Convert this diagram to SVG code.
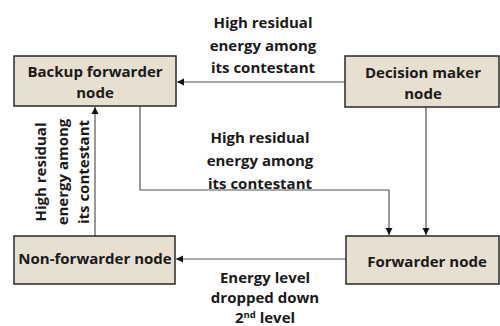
<svg xmlns="http://www.w3.org/2000/svg" width="500" height="326" viewBox="0 0 500 326">
<defs>
<marker id="ah" markerWidth="8" markerHeight="8" refX="7" refY="4" orient="auto" markerUnits="userSpaceOnUse">
<path d="M0,0.5 L7,4 L0,7.5 Z" fill="#111"/>
</marker>
<style>
.box{fill:#e7dfcf;stroke:#2a2a2a;stroke-width:1.5}
.t{font-family:"Open Sans","Noto Sans",sans-serif;font-weight:bold;font-size:15px;fill:#1a1a1a;text-anchor:middle}
.c{fill:none;stroke:#555;stroke-width:1.2;marker-end:url(#ah)}
</style>
</defs>
<rect width="500" height="326" fill="#fff"/>
<g id="connectors">
<path class="c" d="M345,82 H177"/>
<path class="c" d="M426,107 V235"/>
<path class="c" d="M140,106 V190 H389 V235"/>
<path class="c" d="M95,236 V107"/>
<path class="c" d="M346,259 H176"/>
</g>
<g id="backup">
<rect class="box" x="14" y="56" width="162" height="50"/>
<text class="t" x="95" y="77">Backup forwarder</text>
<text class="t" x="95" y="98">node</text>
</g>
<g id="decision">
<rect class="box" x="345" y="56" width="154" height="51"/>
<text class="t" x="423" y="78">Decision maker</text>
<text class="t" x="423" y="99">node</text>
</g>
<g id="nonforwarder">
<rect class="box" x="14" y="236" width="161" height="48"/>
<text class="t" x="95" y="264">Non-forwarder node</text>
</g>
<g id="forwarder">
<rect class="box" x="346" y="236" width="153" height="48"/>
<text class="t" x="427" y="267">Forwarder node</text>
</g>
<g id="labels">
<text class="t" x="263" y="28">High residual</text>
<text class="t" x="263" y="50.5">energy among</text>
<text class="t" x="263" y="73">its contestant</text>
<text class="t" x="260" y="143">High residual</text>
<text class="t" x="260" y="166">energy among</text>
<text class="t" x="260" y="189">its contestant</text>
<text class="t" x="265" y="283">Energy level</text>
<text class="t" x="265" y="303">dropped down</text>
<text class="t" x="265" y="322.5">2<tspan font-size="9.5" dy="-5">nd</tspan><tspan dy="5"> level</tspan></text>
<g transform="translate(0,172) rotate(-90)">
<text class="t" x="0" y="46">High residual</text>
<text class="t" x="0" y="67.5">energy among</text>
<text class="t" x="0" y="89">its contestant</text>
</g>
</g>
</svg>
